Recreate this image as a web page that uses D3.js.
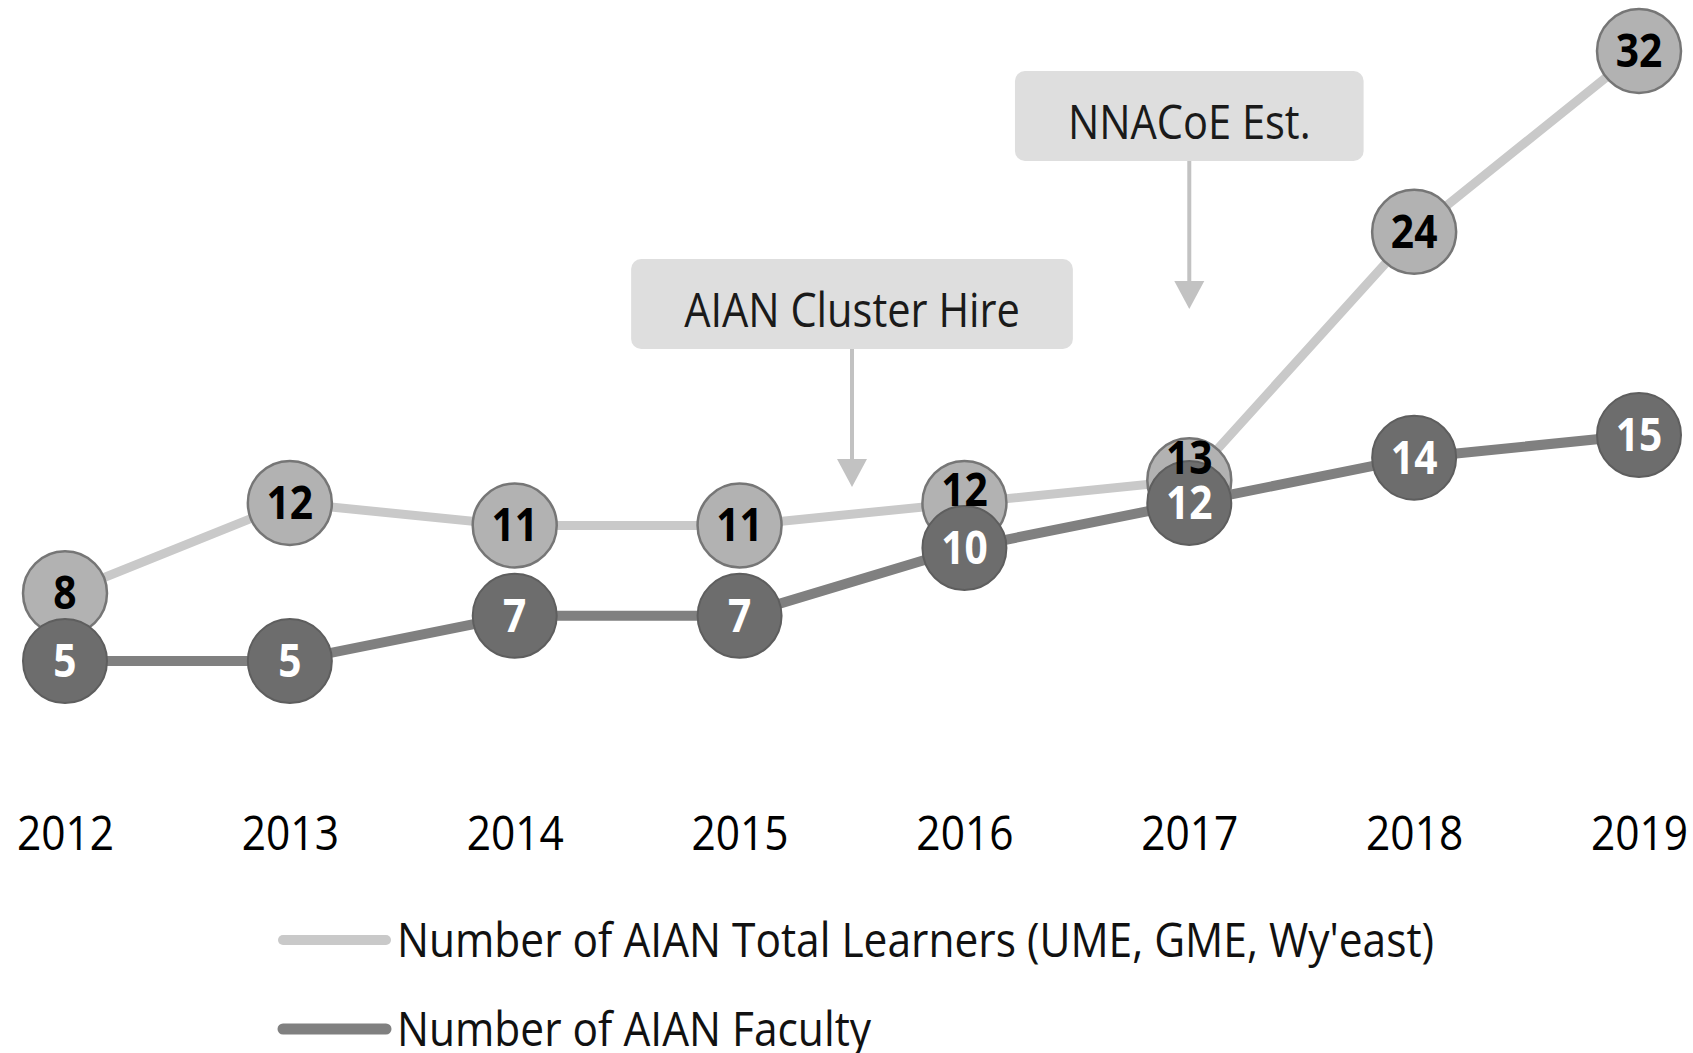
<!DOCTYPE html>
<html>
<head>
<meta charset="utf-8">
<script src="https://cdn.jsdelivr.net/npm/d3@7"></script>
<style>
  body { margin: 0; background: #fff; }
  text { font-family: "Open Sans", sans-serif; }
</style>
</head>
<body>
<div id="drawing"></div>
<script>
// chart data
const years = [2012, 2013, 2014, 2015, 2016, 2017, 2018, 2019];
const learners = [8, 12, 11, 11, 12, 13, 24, 32];
const faculty = [5, 5, 7, 7, 10, 12, 14, 15];
const seriesNames = ["Number of AIAN Total Learners (UME, GME, Wy'east)", "Number of AIAN Faculty"];
const noteYears = [2015.5, 2017];
const noteTexts = ["AIAN Cluster Hire", "NNACoE Est."];

const width = 1693;
const height = 1053;
const squeeze = 0.885; // narrow the glyphs a little, like Calibri

// layout of the two callouts (box top / arrow tip in pixels)
const noteLayout = [{top: 259, tip: 487}, {top: 71, tip: 309}];

const colors = {
  learnLine: "#c9c9c9", learnFill: "#b2b2b2", learnStroke: "#767676",
  facLine: "#808080", facFill: "#6d6d6d", facStroke: "#5e5e5e",
  box: "#dedede", arrow: "#c2c2c2"
};

const svg = d3.select("#drawing").append("svg")
  .attr("width", width)
  .attr("height", height)
  .style("background", "#fff");

const xScale = d3.scaleLinear().domain([2012, 2019]).range([65, 1639]);
const yScale = d3.scaleLinear().domain([0, 32]).range([774, 51]);

// helper: text squeezed horizontally around its anchor
function squeezedText(g, x, y, str) {
  return g.append("text")
    .attr("transform", `translate(${x},${y}) scale(${squeeze},1)`)
    .attr("text-anchor", "middle")
    .text(str);
}

// x axis (years only, no line or ticks)
const xAxis = svg.append("g")
  .attr("transform", "translate(0, 850)")
  .call(d3.axisBottom(xScale).tickValues(years).tickFormat(d3.format("d")).tickSize(0).tickPadding(0));
xAxis.select(".domain").remove();
xAxis.selectAll(".tick text")
  .attr("x", 0).attr("y", 0).attr("dy", 0)
  .attr("transform", `scale(${squeeze},1)`)
  .style("font-family", "'Open Sans', sans-serif")
  .style("font-size", "48px")
  .attr("fill", "#000");

// callouts
const notes = svg.append("g");
noteYears.forEach((yr, i) => {
  const cx = xScale(yr);
  const lay = noteLayout[i];
  const g = notes.append("g");
  const rect = g.append("rect").attr("fill", colors.box).attr("rx", 10);
  const t = squeezedText(g, cx, lay.top + 68, noteTexts[i])
    .style("font-size", "47px").attr("fill", "#1a1a1a");
  const tw = t.node().getComputedTextLength() * squeeze;
  rect.attr("x", cx - tw / 2 - 53).attr("y", lay.top)
    .attr("width", tw + 106).attr("height", 90);
  g.append("line")
    .attr("x1", cx).attr("x2", cx)
    .attr("y1", lay.top + 90).attr("y2", lay.tip - 20)
    .attr("stroke", colors.arrow).attr("stroke-width", 4);
  g.append("path")
    .attr("d", `M${cx - 15},${lay.tip - 28} L${cx + 15},${lay.tip - 28} L${cx},${lay.tip} Z`)
    .attr("fill", colors.arrow);
});

const learnData = years.map((y, i) => ({year: y, v: learners[i]}));
const facData = years.map((y, i) => ({year: y, v: faculty[i]}));

const lineGen = d3.line()
  .x(d => xScale(d.year))
  .y(d => yScale(d.v));

// learners
svg.append("path")
  .attr("d", lineGen(learnData))
  .attr("fill", "none")
  .attr("stroke", colors.learnLine)
  .attr("stroke-width", 9);
svg.append("g").selectAll("circle")
  .data(learnData).join("circle")
  .attr("cx", d => xScale(d.year))
  .attr("cy", d => yScale(d.v))
  .attr("r", 42)
  .attr("fill", colors.learnFill)
  .attr("stroke", colors.learnStroke)
  .attr("stroke-width", 2.5);

// faculty
svg.append("path")
  .attr("d", lineGen(facData))
  .attr("fill", "none")
  .attr("stroke", colors.facLine)
  .attr("stroke-width", 10);
svg.append("g").selectAll("circle")
  .data(facData).join("circle")
  .attr("cx", d => xScale(d.year))
  .attr("cy", d => yScale(d.v))
  .attr("r", 42)
  .attr("fill", colors.facFill)
  .attr("stroke", colors.facStroke)
  .attr("stroke-width", 2);

// data labels; learner labels lift when a faculty marker sits close below
const labels = svg.append("g").style("font-weight", "bold").style("font-size", "46px");
learnData.forEach((d, i) => {
  const gap = yScale(faculty[i]) - yScale(d.v);
  const lift = gap < 30 ? -22 : (gap < 50 ? -13 : 0);
  squeezedText(labels, xScale(d.year), yScale(d.v) + 16 + lift, d.v).attr("fill", "#000");
});
facData.forEach(d => {
  squeezedText(labels, xScale(d.year), yScale(d.v) + 16, d.v).attr("fill", "#fff");
});

// legend
const legend = svg.append("g");
const legendY = [940, 1029];
const legendStroke = [[colors.learnLine, 10], [colors.facLine, 11]];
seriesNames.forEach((name, i) => {
  legend.append("line")
    .attr("x1", 283).attr("x2", 386)
    .attr("y1", legendY[i]).attr("y2", legendY[i])
    .attr("stroke", legendStroke[i][0])
    .attr("stroke-width", legendStroke[i][1])
    .attr("stroke-linecap", "round");
  legend.append("text")
    .attr("transform", `translate(397,${legendY[i] + 17}) scale(${squeeze},1)`)
    .style("font-size", "48px")
    .attr("fill", "#111")
    .text(name);
});
</script>
</body>
</html>
